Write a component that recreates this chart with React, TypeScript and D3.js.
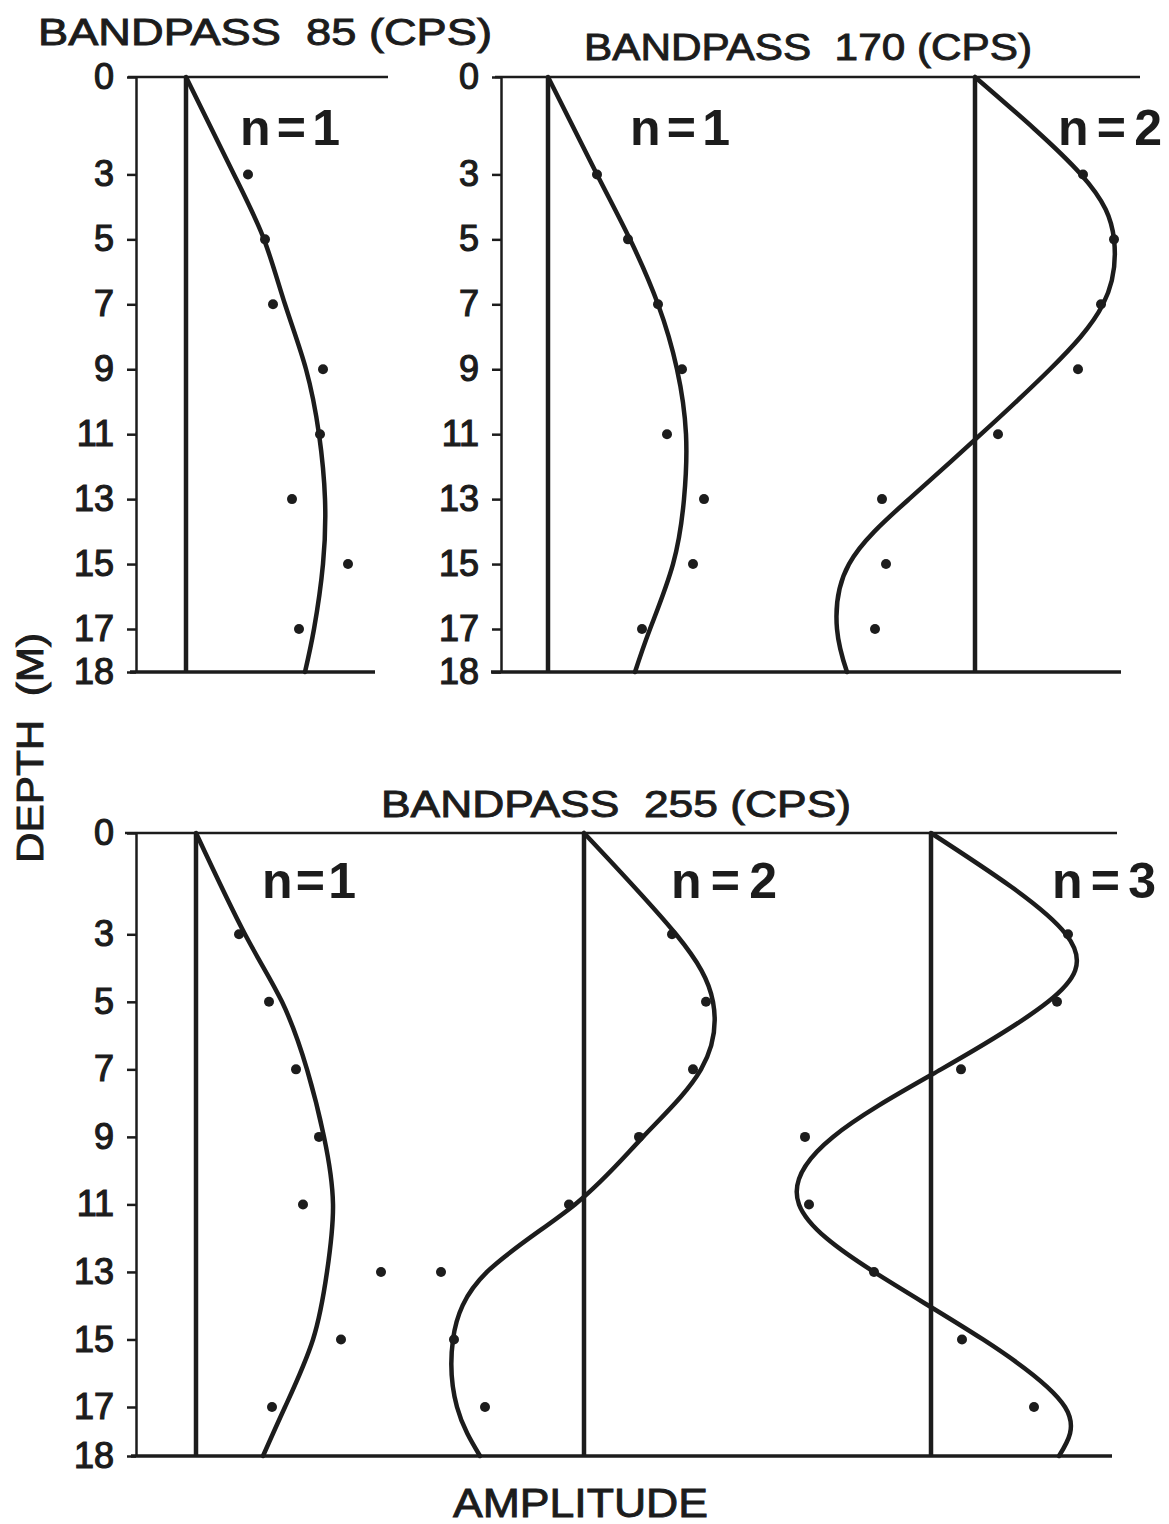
import { useEffect, useRef } from "react";
import * as d3 from "d3";

// depth axis (m)
const DEPTH_TICKS = [0, 3, 5, 7, 9, 11, 13, 15, 17, 18];
const DOT_DEPTHS = [3, 5, 7, 9, 11, 13, 15, 17];

// fitted mode shapes, [depth, amplitude] (arbitrary amplitude units)
const curve85n1: [number, number][] = [
  [0, 0], [3, 4.8], [5, 7.8], [7, 9.9], [9, 12.0], [11, 13.3],
  [13, 13.9], [15, 13.7], [17, 12.8], [18, 11.9],
];
const curve170n1: [number, number][] = [
  [0, 0], [3, 4.9], [5, 8.2], [7, 11.0], [9, 12.9], [11, 13.8],
  [13, 13.6], [15, 12.5], [17, 10.2], [18, 8.7],
];
const curve170n2: [number, number][] = [
  [0, 0], [3, 10.6], [5, 13.9], [7, 12.8], [9, 7.5], [11, 0.6],
  [13, -6.6], [15, -12.6], [17, -13.8], [18, -12.8],
];
const curve255n1: [number, number][] = [
  [0, 0], [3, 4.9], [5, 8.6], [7, 11.1], [9, 12.8], [11, 13.7],
  [13, 13.1], [15, 11.7], [17, 8.9], [18, 6.7],
];
const curve255n2: [number, number][] = [
  [0, 0], [3, 9.2], [5, 12.9], [7, 11.7], [9, 5.9], [11, -0.9],
  [13, -9.7], [15, -13.1], [17, -12.7], [18, -10.4],
];
const curve255n3: [number, number][] = [
  [0, 0], [3, 13.5], [5, 11.7], [7, 1.0], [9, -9.8], [11, -13.2],
  [13, -5.7], [15, 5.2], [17, 13.4], [18, 12.8],
];

// measured amplitudes at DOT_DEPTHS
const dots85n1 = [6.2, 7.9, 8.7, 13.7, 13.4, 10.6, 16.2, 11.3];
const dots170n1 = [4.9, 8.0, 11.0, 13.4, 11.9, 15.6, 14.5, 9.4];
const dots170n2 = [10.8, 13.9, 12.6, 10.3, 2.3, -9.3, -8.9, -10.0];
const dots255n1 = [4.3, 7.3, 10.0, 12.3, 10.7, 18.5, 14.5, 7.6];
const dots255n2 = [8.8, 12.2, 10.9, 5.5, -1.5, -14.3, -13.0, -9.9];
const dots255n3 = [13.7, 12.6, 3.0, -12.6, -12.2, -5.7, 3.1, 10.3];

const INK = "#1c1c1c";
const FONT = "'Liberation Sans', Arial, sans-serif";
const AMP_PX = 10; // px per amplitude unit

type Mode = {
  label: string;
  base: number;
  labelX: number;
  labelW: number;
  curve: [number, number][];
  dots: number[];
};
type Panel = {
  title: string;
  titleX: number;
  titleY: number;
  titleW: number;
  top: number;
  y17: number;
  bottom: number;
  axisX: number;
  topLine: [number, number];
  bottomLine: [number, number];
  labelY: number;
  modes: Mode[];
};

const panels: Panel[] = [
  {
    title: "BANDPASS  85 (CPS)",
    titleX: 38, titleY: 45, titleW: 454,
    top: 77, y17: 629, bottom: 672, axisX: 136,
    topLine: [128, 388], bottomLine: [130, 375], labelY: 145,
    modes: [
      { label: "n=1", base: 186, labelX: 240, labelW: 100, curve: curve85n1, dots: dots85n1 },
    ],
  },
  {
    title: "BANDPASS  170 (CPS)",
    titleX: 584, titleY: 60, titleW: 448,
    top: 77, y17: 629, bottom: 672, axisX: 501,
    topLine: [495, 1140], bottomLine: [491, 1121], labelY: 145,
    modes: [
      { label: "n=1", base: 548, labelX: 630, labelW: 100, curve: curve170n1, dots: dots170n1 },
      { label: "n=2", base: 975, labelX: 1058, labelW: 104, curve: curve170n2, dots: dots170n2 },
    ],
  },
  {
    title: "BANDPASS  255 (CPS)",
    titleX: 381, titleY: 817, titleW: 470,
    top: 833, y17: 1407, bottom: 1456, axisX: 136,
    topLine: [125, 1117], bottomLine: [131, 1112], labelY: 898,
    modes: [
      { label: "n=1", base: 196, labelX: 262, labelW: 94, curve: curve255n1, dots: dots255n1 },
      { label: "n=2", base: 584, labelX: 671, labelW: 106, curve: curve255n2, dots: dots255n2 },
      { label: "n=3", base: 931, labelX: 1052, labelW: 104, curve: curve255n3, dots: dots255n3 },
    ],
  },
];

const App = () => {
  const ref = useRef<SVGSVGElement>(null);

  useEffect(() => {
    const svg = d3.select(ref.current);
    svg.selectAll("*").remove();

    svg.append("rect").attr("width", 1169).attr("height", 1524).attr("fill", "#fff");

    panels.forEach((p) => {
      const g = svg.append("g");
      const y = d3
        .scaleLinear()
        .domain([0, 17, 18])
        .range([p.top, p.y17, p.bottom]);

      g.append("text")
        .attr("x", p.titleX)
        .attr("y", p.titleY)
        .attr("textLength", p.titleW)
        .attr("lengthAdjust", "spacingAndGlyphs")
        .style("white-space", "pre")
        .style("font-family", FONT)
        .style("font-size", "36px")
        .attr("fill", INK)
        .attr("stroke", INK)
        .attr("stroke-width", 0.9)
        .text(p.title);

      // frame
      g.append("line")
        .attr("x1", p.topLine[0]).attr("x2", p.topLine[1])
        .attr("y1", y(0)).attr("y2", y(0))
        .attr("stroke", INK).attr("stroke-width", 2.5);
      g.append("line")
        .attr("x1", p.bottomLine[0]).attr("x2", p.bottomLine[1])
        .attr("y1", y(18)).attr("y2", y(18))
        .attr("stroke", INK).attr("stroke-width", 3.5);

      const axis = d3
        .axisLeft(y)
        .tickValues(DEPTH_TICKS)
        .tickSize(9)
        .tickPadding(13)
        .tickSizeOuter(0);
      const ax = g
        .append("g")
        .attr("transform", `translate(${p.axisX},0)`)
        .call(axis);
      ax.select(".domain").attr("stroke", INK).attr("stroke-width", 2.5);
      ax.selectAll(".tick line").attr("stroke", INK).attr("stroke-width", 2.5);
      ax.selectAll(".tick text")
        .attr("fill", INK)
        .attr("stroke", INK)
        .attr("stroke-width", 1.2)
        .style("font-family", FONT)
        .style("font-size", "36px");

      p.modes.forEach((m) => {
        const x = d3
          .scaleLinear()
          .domain([0, 10])
          .range([m.base, m.base + 10 * AMP_PX]);

        g.append("line")
          .attr("x1", x(0)).attr("x2", x(0))
          .attr("y1", y(0)).attr("y2", y(18))
          .attr("stroke", INK).attr("stroke-width", 4.5);

        const line = d3
          .line<[number, number]>()
          .x((d) => x(d[1]))
          .y((d) => y(d[0]))
          .curve(d3.curveNatural);

        g.append("path")
          .attr("d", line(m.curve) as string)
          .attr("fill", "none")
          .attr("stroke", INK)
          .attr("stroke-width", 4.5)
          .attr("stroke-linecap", "round");

        g.append("g")
          .selectAll("circle")
          .data(m.dots)
          .enter()
          .append("circle")
          .attr("cx", (d) => x(d))
          .attr("cy", (_d, i) => y(DOT_DEPTHS[i]))
          .attr("r", 5)
          .attr("fill", INK);

        // mode label, letters spread to the width seen in the figure
        g.append("text")
          .attr("x", m.labelX)
          .attr("y", p.labelY)
          .attr("textLength", m.labelW)
          .attr("lengthAdjust", "spacing")
          .style("font-family", FONT)
          .style("font-weight", "bold")
          .style("font-size", "50px")
          .attr("fill", INK)
          .text(m.label);
      });
    });

    svg.append("text")
      .attr("transform", "translate(43,748) rotate(-90)")
      .attr("text-anchor", "middle")
      .attr("textLength", 230)
      .attr("lengthAdjust", "spacingAndGlyphs")
      .style("white-space", "pre")
      .style("font-family", FONT)
      .style("font-size", "36px")
      .attr("fill", INK)
      .attr("stroke", INK)
      .attr("stroke-width", 0.9)
      .text("DEPTH  (M)");

    svg.append("text")
      .attr("x", 453)
      .attr("y", 1517)
      .attr("textLength", 255)
      .attr("lengthAdjust", "spacingAndGlyphs")
      .style("font-family", FONT)
      .style("font-size", "40px")
      .attr("fill", INK)
      .attr("stroke", INK)
      .attr("stroke-width", 0.9)
      .text("AMPLITUDE");
  }, []);

  return (
    <svg
      ref={ref}
      width={1169}
      height={1524}
      style={{ position: "absolute", left: 0, top: 0, display: "block" }}
    />
  );
};

export default App;
